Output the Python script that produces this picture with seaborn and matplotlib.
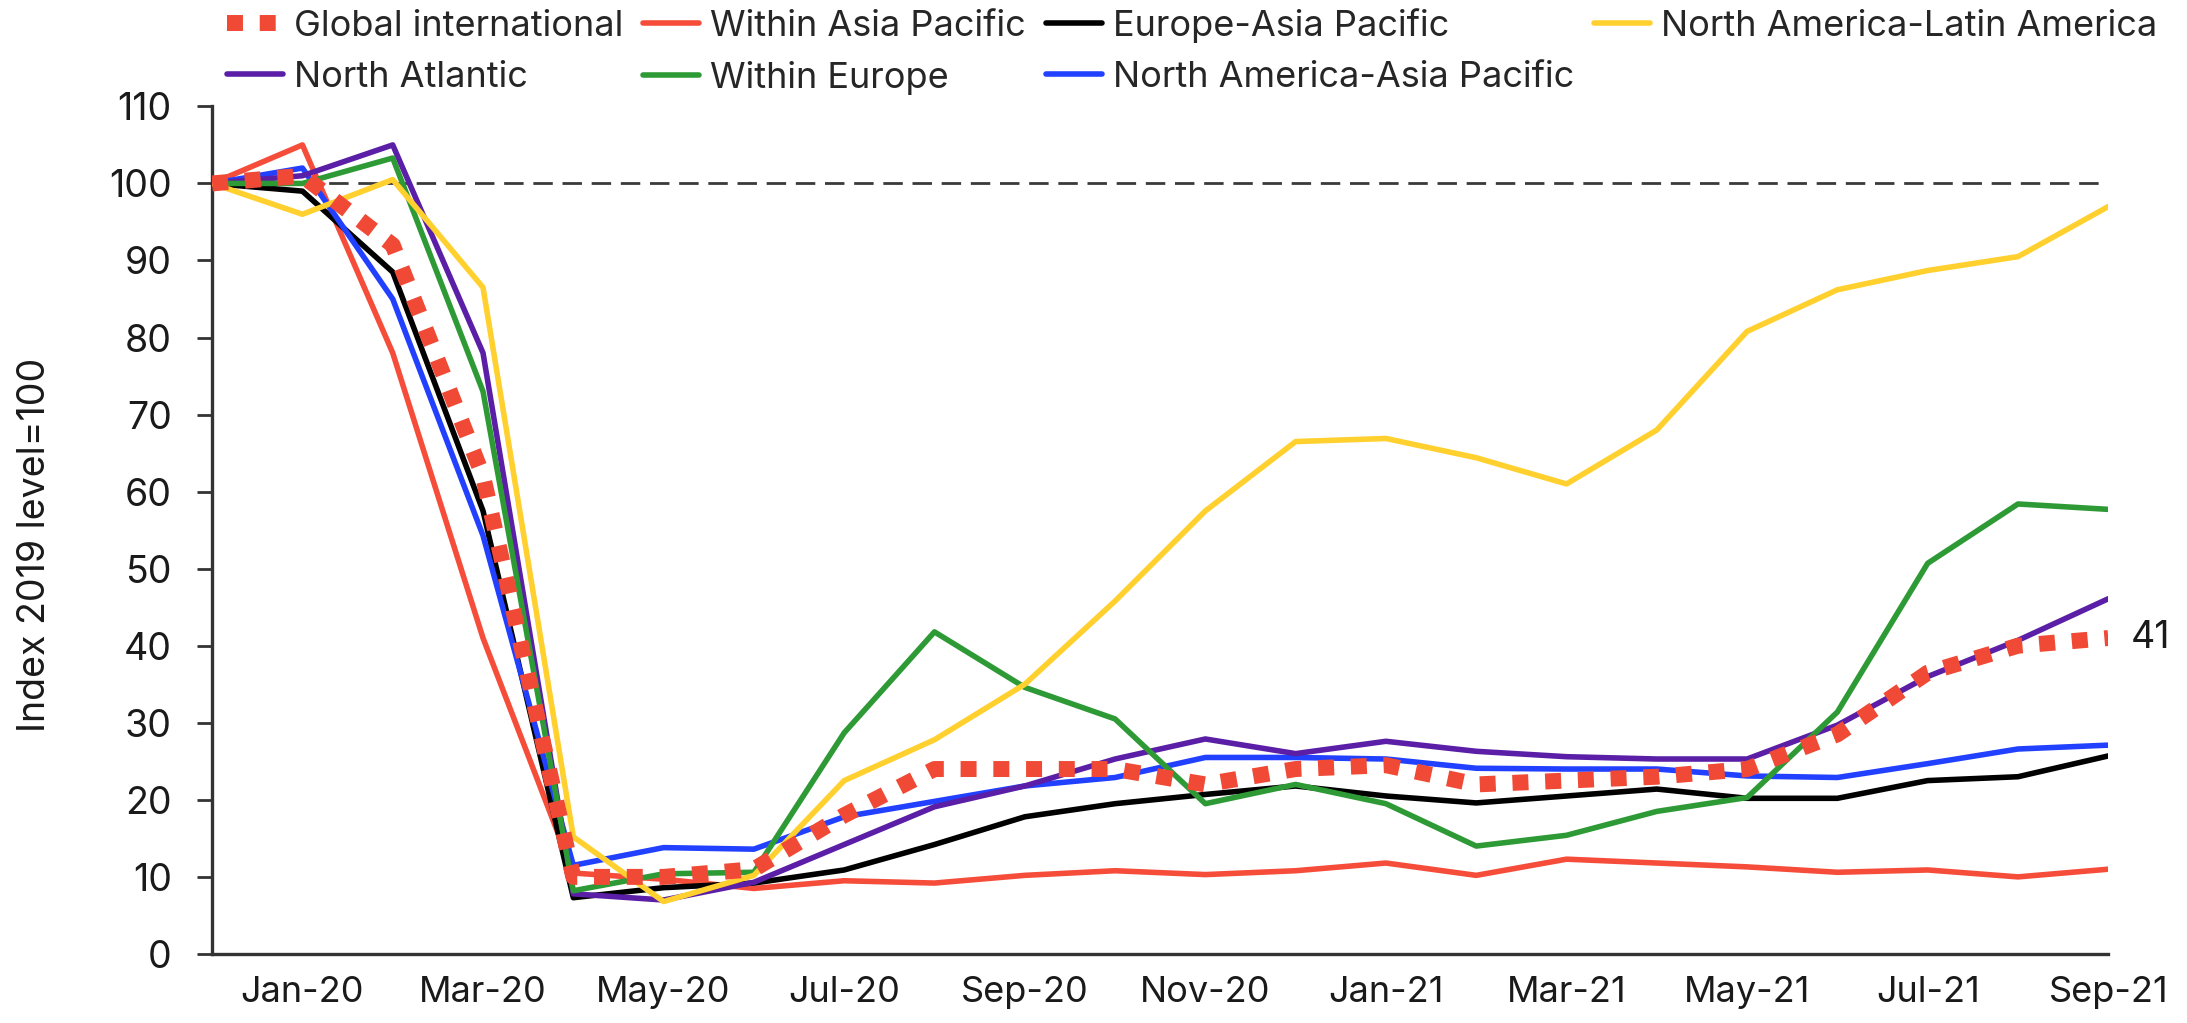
import numpy as np
import pandas as pd
import matplotlib
matplotlib.use("Agg")
import matplotlib.pyplot as plt
import seaborn as sns

months = ["Dec-19", "Jan-20", "Feb-20", "Mar-20", "Apr-20", "May-20", "Jun-20", "Jul-20",
          "Aug-20", "Sep-20", "Oct-20", "Nov-20", "Dec-20", "Jan-21", "Feb-21", "Mar-21",
          "Apr-21", "May-21", "Jun-21", "Jul-21", "Aug-21", "Sep-21"]

global_international = [100, 101, 92, 62, 10, 10, 11, 18, 24, 24, 24, 22, 24, 24.5, 22, 22.5,
                        23, 24, 28.5, 36.5, 40, 41]
within_asia_pacific = [100, 105, 78, 41, 10.5, 9.7, 8.5, 9.5, 9.2, 10.2, 10.8, 10.3, 10.8, 11.8,
                       10.2, 12.3, 11.8, 11.3, 10.6, 10.9, 10.0, 11.0]
europe_asia_pacific = [100, 99, 88.5, 57.5, 7.3, 8.6, 9.2, 10.9, 14.2, 17.8, 19.5, 20.7, 21.8,
                       20.5, 19.6, 20.5, 21.4, 20.2, 20.2, 22.5, 23.0, 25.7]
na_latin_america = [100, 96, 100.5, 86.5, 15.2, 6.8, 10.2, 22.5, 27.8, 35, 45.8, 57.5, 66.5, 66.9,
                    64.4, 61, 68, 80.8, 86.2, 88.7, 90.5, 97]
north_atlantic = [100, 101, 105, 78, 7.8, 7.0, 9.3, 14.2, 19.1, 21.8, 25.3, 27.9, 26, 27.6, 26.3,
                  25.6, 25.3, 25.3, 29.7, 36, 40.7, 46.1]
within_europe = [100, 100, 103.3, 73, 8.2, 10.4, 10.6, 28.7, 41.8, 34.6, 30.5, 19.5, 22, 19.5, 14,
                 15.4, 18.5, 20.3, 31.4, 50.7, 58.4, 57.7]
na_asia_pacific = [100, 102, 85, 54.3, 11.5, 13.8, 13.6, 17.8, 19.8, 21.8, 22.9, 25.5, 25.5, 25.3,
                   24.1, 24, 24, 23.1, 22.9, 24.7, 26.6, 27.1]

tick_labels = ["Jan-20", "Mar-20", "May-20", "Jul-20", "Sep-20", "Nov-20", "Jan-21",
               "Mar-21", "May-21", "Jul-21", "Sep-21"]
yticks = list(range(0, 111, 10))
end_label = "41"

series = {
    "Global international": global_international,
    "North Atlantic": north_atlantic,
    "Within Asia Pacific": within_asia_pacific,
    "Within Europe": within_europe,
    "Europe-Asia Pacific": europe_asia_pacific,
    "North America-Asia Pacific": na_asia_pacific,
    "North America-Latin America": na_latin_america,
}
colors = {
    "Global international": "#F04A36",
    "North Atlantic": "#5A1FA6",
    "Within Asia Pacific": "#F54D3A",
    "Within Europe": "#2E9A36",
    "Europe-Asia Pacific": "#000000",
    "North America-Asia Pacific": "#2140FF",
    "North America-Latin America": "#FFD02E",
}

sns.set_theme(style="white")
plt.rcParams["font.family"] = ["Inter", "DejaVu Sans"]

fig = plt.figure(figsize=(21.87, 10.23), dpi=100)
ax = fig.add_axes([0.097, 0.0675, 0.867, 0.8285])

x = np.arange(len(months))
draw_order = ["Within Asia Pacific", "Europe-Asia Pacific", "North America-Asia Pacific",
              "North Atlantic", "Within Europe", "North America-Latin America",
              "Global international"]
handles = {}
for name in draw_order:
    df = pd.DataFrame({"x": x, "y": series[name]})
    if name == "Global international":
        sns.lineplot(data=df, x="x", y="y", ax=ax, color=colors[name], linewidth=11.5,
                     zorder=5)
        ln = ax.lines[-1]
        ln.set_dashes((1.0, 1.05))
        ln.set_dash_capstyle("butt")
    else:
        sns.lineplot(data=df, x="x", y="y", ax=ax, color=colors[name], linewidth=4.0,
                     zorder=3)
        ln = ax.lines[-1]
    handles[name] = ln

ax.axhline(100, xmin=0, xmax=1, color="#3a3a3a", linewidth=2.0, dashes=(7, 3.5), zorder=2)

ax.set_xlim(0, len(months) - 1)
ax.set_ylim(0, 110)
ax.set_yticks(yticks)
ax.set_yticklabels([str(v) for v in yticks])
ax.set_xticks(np.arange(1, len(months), 2))
ax.set_xticklabels(tick_labels)
ax.tick_params(axis="y", length=11, width=2.0, color="#333333", labelsize=27,
               labelcolor="#1a1a1a", pad=18, left=True)
ax.tick_params(axis="x", length=0, labelsize=26, labelcolor="#1a1a1a", pad=16)
ax.set_xlabel("")
ax.set_ylabel("Index 2019 level=100", fontsize=27, color="#1a1a1a")
ax.yaxis.set_label_coords(-0.084, 0.483)
for s in ["top", "right"]:
    ax.spines[s].set_visible(False)
for s in ["left", "bottom"]:
    ax.spines[s].set_color("#333333")
    ax.spines[s].set_linewidth(2.4)

ax.annotate(end_label, xy=(x[-1], global_international[-1]), xytext=(16, 0),
            textcoords="offset points", fontsize=27, color="#1a1a1a", va="center", ha="left",
            annotation_clip=False)

leg_names = list(series.keys())
fig.legend([handles[n] for n in leg_names], leg_names, loc="upper left",
           bbox_to_anchor=(0.104, 0.992), ncol=4, frameon=False, fontsize=26,
           handlelength=1.55, handletextpad=0.3, columnspacing=0.55, labelspacing=0.5,
           borderaxespad=0.0, borderpad=0.0)

fig.savefig("out.png", dpi=100)
